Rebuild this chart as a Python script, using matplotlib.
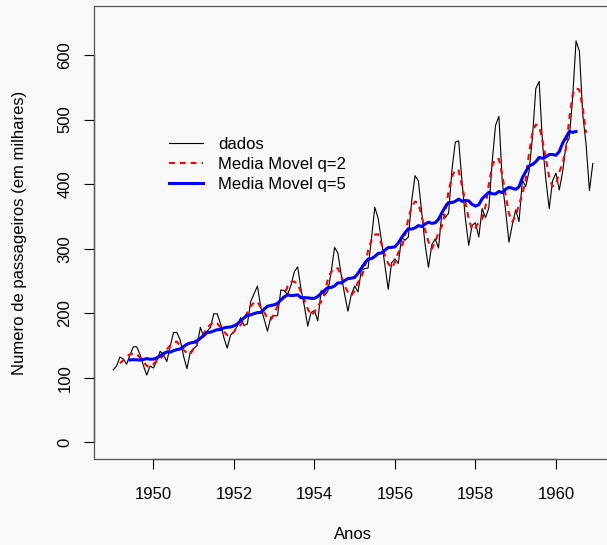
import numpy as np
import matplotlib
matplotlib.use("Agg")
import matplotlib.pyplot as plt

plt.rcParams['font.family'] = ['Liberation Sans', 'DejaVu Sans']

# AirPassengers monthly totals (thousands), Jan 1949 - Dec 1960
passengers = [
    112, 118, 132, 129, 121, 135, 148, 148, 136, 119, 104, 118,
    115, 126, 141, 135, 125, 149, 170, 170, 158, 133, 114, 140,
    145, 150, 178, 163, 172, 178, 199, 199, 184, 162, 146, 166,
    171, 180, 193, 181, 183, 218, 230, 242, 209, 191, 172, 194,
    196, 196, 236, 235, 229, 243, 264, 272, 237, 211, 180, 201,
    204, 188, 235, 227, 234, 264, 302, 293, 259, 229, 203, 229,
    242, 233, 267, 269, 270, 315, 364, 347, 312, 274, 237, 278,
    284, 277, 317, 313, 318, 374, 413, 405, 355, 306, 271, 306,
    315, 301, 356, 348, 355, 422, 465, 467, 404, 347, 305, 336,
    340, 318, 362, 348, 363, 435, 491, 505, 404, 359, 310, 337,
    360, 342, 406, 396, 420, 472, 548, 559, 463, 407, 362, 405,
    417, 391, 419, 461, 472, 535, 622, 606, 508, 461, 390, 432,
]
start_year = 1949
q_values = [2, 5]
legend_labels = ["dados", "Media Movel q=2", "Media Movel q=5"]
x_ticks = [1950, 1952, 1954, 1956, 1958, 1960]
y_ticks = [0, 100, 200, 300, 400, 500, 600]
y_limits = [0, 650]

x = np.asarray(passengers, dtype=float)
t = start_year + np.arange(len(x)) / 12.0


def moving_average(series, q):
    # symmetric moving average of 2q+1 terms (as R's filter(..., sides=2))
    k = 2 * q + 1
    out = np.full(series.shape, np.nan)
    out[q:len(series) - q] = np.convolve(series, np.ones(k) / k, mode='valid')
    return out


bg = '#f9f9f9'
W, H, dpi = 607, 545, 100
fig = plt.figure(figsize=(W / dpi, H / dpi), dpi=dpi, facecolor=bg)

# data-range extension of 4% like R
xr = t[-1] - t[0]
xlim = (t[0] - 0.04 * xr, t[-1] + 0.04 * xr)
yr = y_limits[1] - y_limits[0]
ylim = (y_limits[0] - 0.04 * yr, y_limits[1] + 0.04 * yr)

left_px, right_px, top_px, bottom_px = 94, 612, 6, 459
ax = fig.add_axes([left_px / W, 1 - bottom_px / H,
                   (right_px - left_px) / W, (bottom_px - top_px) / H])
ax.set_facecolor(bg)

ax.plot(t, x, color='black', lw=0.8, label=legend_labels[0])
ma2 = moving_average(x, q_values[0])
ma5 = moving_average(x, q_values[1])
ax.plot(t, ma2, color='#ff0000', lw=1.5, linestyle=(0, (2.8, 2.4)),
        label=legend_labels[1])
ax.plot(t, ma5, color='#0000ff', lw=2.2, label=legend_labels[2])

ax.set_xlim(*xlim)
ax.set_ylim(*ylim)
ax.set_xticks(x_ticks)
ax.set_yticks(y_ticks)
ax.set_xticklabels([str(v) for v in x_ticks], fontsize=12)
ax.set_yticklabels([str(v) for v in y_ticks], fontsize=12, rotation=90,
                   va='center')
ax.tick_params(axis='both', direction='out', length=7.5, width=0.8,
               color='black')
ax.tick_params(axis='x', pad=13)
ax.tick_params(axis='y', pad=8)

for s in ax.spines.values():
    s.set_color('#555555')
    s.set_linewidth(0.9)

# axis lines over tick range (R style)
ax.plot([x_ticks[0], x_ticks[-1]], [0, 0], color='black', lw=0.9,
        transform=ax.get_xaxis_transform(), clip_on=False)
ax.plot([0, 0], [y_ticks[0], y_ticks[-1]], color='black', lw=0.9,
        transform=ax.get_yaxis_transform(), clip_on=False)

ax.set_xlabel("Anos", fontsize=12, labelpad=18)
fig.text(20 / W, 1 - 233 / H, "Numero de passageiros (em milhares)",
         rotation=90, ha='center', va='center', fontsize=12)

leg = ax.legend(loc='upper left', bbox_to_anchor=(169 / W, 1 - 137 / H),
                bbox_transform=fig.transFigure, frameon=False, fontsize=12,
                handlelength=2.05, handletextpad=0.9, labelspacing=0.3,
                borderpad=0, borderaxespad=0)

fig.savefig("out.png", dpi=dpi, facecolor=bg)
